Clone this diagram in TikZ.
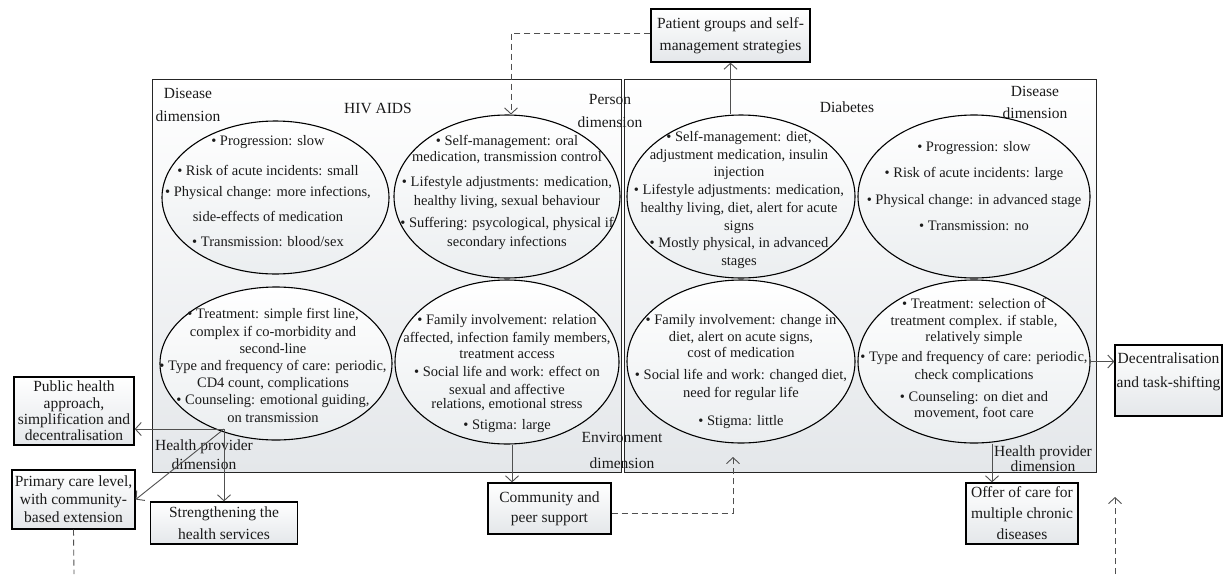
\documentclass[tikz,border=0pt]{standalone}
\usepackage{fontspec}
\setmainfont{Liberation Serif}
\usetikzlibrary{shapes.geometric,arrows.meta,calc}
\definecolor{ink}{HTML}{1A1A1A}
\definecolor{lineg}{HTML}{505050}
\definecolor{shadeb}{HTML}{E4E7EA}
\definecolor{shadee}{HTML}{EBEEF0}
\newcommand{\fsz}[2]{\fontsize{#1}{#2}\selectfont}
\begin{document}
\begin{tikzpicture}[x=1pt,y=-1pt,
  panelbox/.style={draw=black!85, line width=1pt, top color=white, bottom color=shadeb, inner sep=0pt},
  ell/.style={ellipse, draw=black, line width=1.1pt, top color=white, bottom color=shadee, inner sep=0pt},
  etxt/.style={text=ink, align=center, inner sep=0pt},
  lbl/.style={text=ink, align=center, inner sep=0pt},
  bx/.style={draw=black, line width=1.3pt, top color=white, bottom color=shadeb, inner sep=0pt, align=center, text=ink},
  arr/.style={draw=lineg, line width=0.9pt, -{Straight Barb[length=6pt,width=13pt]}},
  dashline/.style={draw=lineg, line width=0.9pt, dash pattern=on 6pt off 4pt},
  dasharr/.style={dashline, -{Straight Barb[length=6pt,width=13pt]}}]
\fill[white] (0,0) rectangle (1226,574);
\useasboundingbox (0,0) rectangle (1226,574);

% panels
\node[panelbox, minimum width=469.5pt, minimum height=393pt] (lp) at (386.75,275.5) {};
\node[panelbox, minimum width=471.5pt, minimum height=393pt] (rp) at (860.25,275.5) {};

% ellipses
\node[ell, minimum width=227pt, minimum height=153pt] (hd) at (275.5,197.5) {};
\node[ell, minimum width=226pt, minimum height=163pt] (hp) at (507,196.5) {};
\node[ell, minimum width=228pt, minimum height=163pt] (dp) at (741,196.5) {};
\node[ell, minimum width=232pt, minimum height=163pt] (dd) at (974,196.5) {};
\node[ell, minimum width=232pt, minimum height=153pt] (hh) at (276,363.5) {};
\node[ell, minimum width=224pt, minimum height=164pt] (he) at (507,362) {};
\node[ell, minimum width=228pt, minimum height=163pt] (de) at (741,361.5) {};
\node[ell, minimum width=232pt, minimum height=163pt] (dh) at (974,361.5) {};

% ellipse texts
\node[etxt, font=\fsz{14.5}{17}] (hdt) at (268,191.5) {• Progression: slow\\[13pt]
• Risk of acute incidents: small\\[4pt]
• Physical change: more infections,\\[8pt]
side-effects of medication\\[8pt]
• Transmission: blood/sex};
\node[etxt, font=\fsz{14.5}{18}] (hpt) at (507,192.5) {• Self-management: oral\\[-2pt]
medication, transmission control\\[7pt]
• Lifestyle adjustments: medication,\\[1pt]
healthy living, sexual behaviour\\[4pt]
• Suffering: psycological, physical if\\[1pt]
secondary infections};
\node[etxt, font=\fsz{14.5}{17.7}] (dpt) at (739,200) {• Self-management: diet,\\
adjustment medication, insulin\\
injection\\
• Lifestyle adjustments: medication,\\
healthy living, diet, alert for acute\\
signs\\
• Mostly physical, in advanced\\
stages};
\node[etxt, font=\fsz{14.5}{17}] (ddt) at (974,186) {• Progression: slow\\[9.7pt]
• Risk of acute incidents: large\\[9.7pt]
• Physical change: in advanced stage\\[9pt]
• Transmission: no};
\node[etxt, font=\fsz{14.5}{17.2}] (hht) at (273,365.5) {• Treatment: simple first line,\\
complex if co-morbidity and\\
second-line\\
• Type and frequency of care: periodic,\\
CD4 count, complications\\
• Counseling: emotional guiding,\\
on transmission};
\node[etxt, font=\fsz{14.5}{17}] (het) at (507,373.5) {• Family involvement: relation\\[1pt]
affected, infection family members,\\[-1pt]
treatment access\\[1pt]
• Social life and work: effect on\\[1pt]
sexual and affective\\[-3pt]
relations, emotional stress\\[4pt]
• Stigma: large};
\node[etxt, font=\fsz{14.5}{17}] (det) at (741,371.5) {• Family involvement: change in\\
diet, alert on acute signs,\\[-1pt]
cost of medication\\[5pt]
• Social life and work: changed diet,\\[1pt]
need for regular life\\[11pt]
• Stigma: little};
\node[etxt, font=\fsz{14.5}{17}] (dht) at (974,359.5) {• Treatment: selection of\\
treatment complex. if stable,\\[-1pt]
relatively simple\\[3pt]
• Type and frequency of care: periodic,\\[1pt]
check complications\\[5pt]
• Counseling: on diet and\\[-1pt]
movement, foot care};

% dimension labels
\node[lbl, font=\fsz{15.5}{23}] (l1) at (188,104.5) {Disease\\dimension};
\node[lbl, font=\fsz{15.5}{19}] (l2) at (378,108) {HIV AIDS};
\node[lbl, font=\fsz{15.5}{23}] (l3) at (610,110.5) {Person\\dimension};
\node[lbl, font=\fsz{15.5}{19}] (l4) at (847,107) {Diabetes};
\node[lbl, font=\fsz{15.5}{22}] (l5) at (1035,102) {Disease\\dimension};
\node[lbl, font=\fsz{15.5}{19}] (l6) at (204,454.5) {Health provider\\dimension};
\node[lbl, font=\fsz{15.5}{26}] (l7) at (622,450) {Environment\\dimension};
\node[lbl, font=\fsz{15.5}{13}] (l8) at (1043,458.5) {Health provider\\dimension};

% boxes
\node[bx, font=\fsz{15.5}{22}, minimum width=159pt, minimum height=53pt] (pg) at (730.5,35.5) {Patient groups and self-\\management strategies};
\node[bx, font=\fsz{15.5}{16.3}, minimum width=120pt, minimum height=68pt] (ph) at (74,411) {Public health\\approach,\\simplification and\\decentralisation};
\node[bx, font=\fsz{15.5}{18}, minimum width=123pt, minimum height=59pt] (pc) at (73.5,499.5) {Primary care level,\\with community-\\based extension};
\node[bx, font=\fsz{15.5}{22}, minimum width=147pt, minimum height=42pt] (st) at (224,523) {Strengthening the\\health services};
\node[bx, font=\fsz{15.5}{20}, minimum width=123pt, minimum height=51pt] (cp) at (549.5,508.5) {Community and\\peer support};
\node[bx, font=\fsz{15.5}{21}, minimum width=112pt, minimum height=61pt] (oc) at (1022,513.5) {Offer of care for\\multiple chronic\\diseases};
\node[bx, minimum width=107pt, minimum height=71pt] (dt) at (1168.5,380.5) {};
\node[lbl, font=\fsz{15.5}{24}] (dtt) at (1168.5,372) {Decentralisation\\and task-shifting};

% helper coordinates
\coordinate (j) at (224,429);
\coordinate (pcd) at (74,574);
\coordinate (rdb) at (1115,574);
\coordinate (rdt) at (1115,497);
\coordinate (deup) at (733,457);

% connectors
\draw[dasharr] ([yshift=2.5pt]pg.west) -| ([xshift=4pt]hp.north);
\draw[arr] (dp.north -| pg.south) -- (pg.south);
\draw[arr] (j) -- (j -| ph.east);
\draw[arr] (j) -- (pc.east);
\draw[arr] (j) -- (st.north);
\draw[arr] ([xshift=5pt]he.south) -- ([xshift=5pt]he.south |- cp.north);
\draw[dasharr] ([yshift=-4.5pt]cp.east) -| (deup);
\draw[arr] (dh.east) -- (dh.east -| dt.west);
\draw[arr] ([xshift=18pt]dh.south) -- ([xshift=18pt]dh.south |- oc.north);
\draw[dashline] (pc.south) -- (pcd);
\draw[dasharr] (rdb) -- (rdt);
\end{tikzpicture}
\end{document}
